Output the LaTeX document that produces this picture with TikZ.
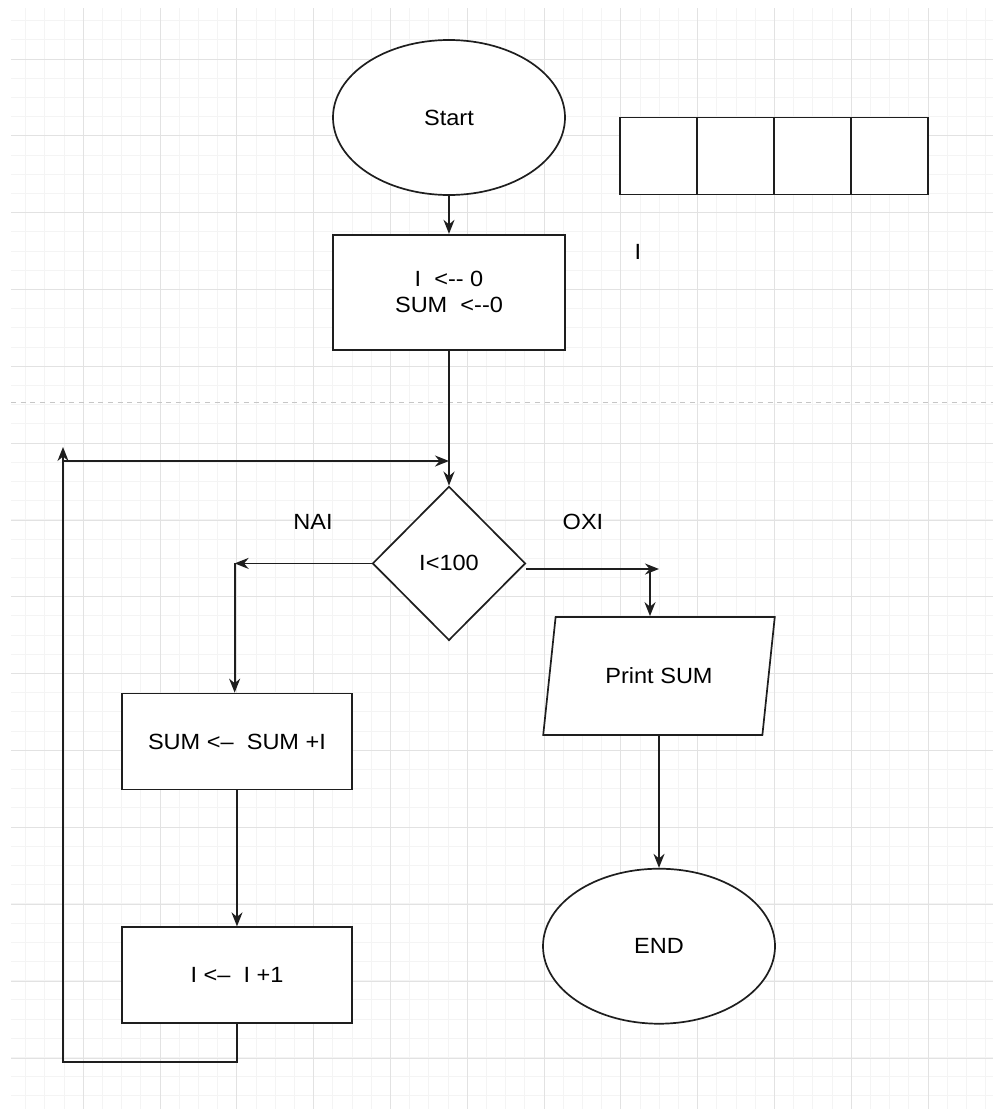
\documentclass[tikz,border=0pt]{standalone}
\usepackage{fontspec}
\setmainfont{Liberation Sans}[FakeStretch=1.07]
\usetikzlibrary{arrows.meta,positioning,shapes.geometric}
\definecolor{gridmaj}{RGB}{226,226,226}
\definecolor{gridmin}{RGB}{244,244,244}
\definecolor{ink}{RGB}{30,30,30}

\begin{document}
\begin{tikzpicture}[
  x=1pt, y=-1pt,
  font=\fontsize{22}{26}\selectfont,
  base/.style={draw=ink, line width=1.7pt, fill=white, align=center, inner sep=2pt},
  term/.style={base, ellipse, minimum width=232pt, minimum height=155pt},
  proc/.style={base, rectangle, minimum width=230pt, minimum height=96pt},
  cond/.style={base, diamond, minimum width=153pt, minimum height=154pt},
  io/.style={base, trapezium, trapezium left angle=71.7, trapezium right angle=108.3,
             trapezium stretches=true, minimum width=232pt, minimum height=118pt},
  cell/.style={base, minimum size=77pt},
  arr/.style={-{Stealth[length=14pt,width=11pt]}, draw=ink, line width=1.8pt}]

% page and grid
\useasboundingbox (0,0) rectangle (993,1109);
\fill[white] (0,0) rectangle (993,1109);
\foreach \gx in {25.6,44.8,...,993}
  \draw[gridmin, line width=1pt] (\gx,8) -- (\gx,1109);
\foreach \gy in {20.6,39.8,...,1109}
  \draw[gridmin, line width=1pt] (11,\gy) -- (993,\gy);
\foreach \gx in {83.2,160,...,993}
  \draw[gridmaj, line width=1pt] (\gx,8) -- (\gx,1109);
\foreach \gy in {59,135.85,...,1109}
  \draw[gridmaj, line width=1pt] (11,\gy) -- (993,\gy);
\draw[gray!45, line width=1pt, dash pattern=on 5pt off 4.7pt] (11,402) -- (993,402);

% main column
\node[term] (start) at (449,117.5) {Start};
\node[proc, minimum width=232pt, minimum height=115pt, below=38pt of start] (init)
  {I\ \ <-{}- 0\\SUM\ \ <-{}-0};
\node[cond, below=135pt of init] (test) {I<100};

% left branch
\node[proc] (add) at (237,741.5) {SUM <-- \ SUM +I};
\node[proc, below=136pt of add] (inc) {I <-- \ I +1};

% right branch
\node[io] (print) at (659,676) {Print SUM};
\node[term, below=132pt of print] (end) {END};

% array of cells
\foreach \i in {0,...,3}
  \node[cell] (c\i) at (658.5+77*\i,156) {};
\node (lbl) at (638,252) {I};

\node (lnai) at (313,522) {NAI};
\node (loxi) at (583,522) {OXI};

\coordinate (lt) at (63,447);
\coordinate (lh) at (63,461);
\coordinate (yj) at (659,569);
\coordinate (yd) at (650,569);

\draw[arr] (start) -- (init);
\draw[arr] (init) -- (test);
\draw[arr] (test.west) -- ++(-137,0) coordinate (nj);
\draw[arr] (nj) -- (nj |- add.north);
\draw[arr] (add) -- (inc);
\draw[arr] (inc.south) -- ++(0,38) -| (lt);
\draw[arr] (lh) -- (lh -| test.north);
\draw[arr] (test.east |- yj) -- (yj);
\draw[arr] (yd) -- (yd |- print.north);
\draw[arr] (print) -- (end);
\end{tikzpicture}
\end{document}
